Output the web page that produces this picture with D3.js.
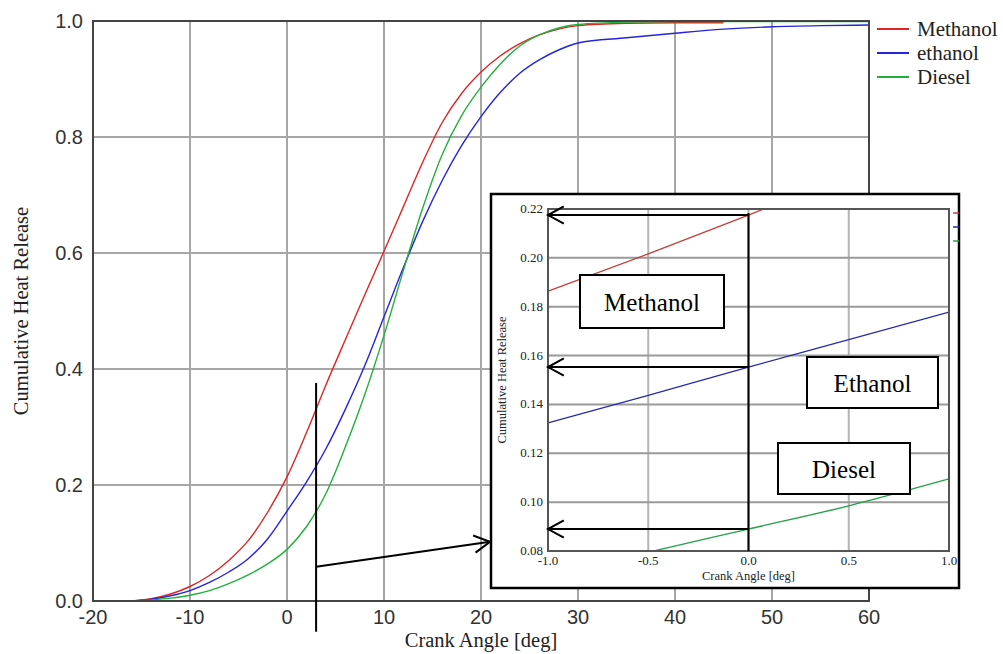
<!DOCTYPE html>
<html>
<head>
<meta charset="utf-8">
<script src="https://cdn.jsdelivr.net/npm/d3@7"></script>
<style>
    body { margin: 0; background: #fff; }
    svg { display: block; }
</style>
</head>
<body>
<div class="container"></div>
<script>
// main chart data (crank angle in deg, cumulative heat release 0..1)
var angles   = [-20, -16, -14, -12, -10, -8, -6, -4, -2, 0, 2, 4, 6, 8, 10, 12, 14, 16, 18, 20, 22, 24, 26, 28, 30, 35, 40, 45, 50, 55, 60];
var methanol = [null, 0, 0.004, 0.012, 0.025, 0.044, 0.07, 0.104, 0.153, 0.214, 0.29, 0.372, 0.45, 0.527, 0.603, 0.68, 0.757, 0.825, 0.875, 0.912, 0.94, 0.961, 0.976, 0.986, 0.992, 0.996, 0.997, 0.997, null, null, null];
var ethanol  = [null, 0, 0.003, 0.009, 0.018, 0.032, 0.05, 0.073, 0.107, 0.155, 0.205, 0.262, 0.33, 0.405, 0.49, 0.575, 0.655, 0.725, 0.785, 0.835, 0.877, 0.91, 0.933, 0.95, 0.962, 0.971, 0.979, 0.986, 0.99, 0.992, 0.993];
var diesel   = [0, 0, 0.002, 0.005, 0.01, 0.018, 0.03, 0.045, 0.064, 0.089, 0.128, 0.185, 0.265, 0.355, 0.458, 0.57, 0.678, 0.77, 0.837, 0.886, 0.926, 0.957, 0.976, 0.988, 0.994, 0.998, 0.999, 0.999, 0.999, 0.999, 0.999];

var xTicks = [-20, -10, 0, 10, 20, 30, 40, 50, 60];
var yTicks = [0, 0.2, 0.4, 0.6, 0.8, 1.0];

var seriesNames  = ["Methanol", "ethanol", "Diesel"];
var seriesColors = ["#e02424", "#2424dd", "#22b03a"];
var zoomColors   = ["#c43c3c", "#2a2aa8", "#24a048"];

// zoomed view around TDC
var zoomAngles   = [-1, -0.5, 0, 0.5, 1];
var zoomMethanol = [0.1864, 0.2016, 0.2175, 0.234, 0.25];
var zoomEthanol  = [0.1324, 0.1437, 0.1553, 0.1665, 0.1778];
var zoomDiesel   = [0.0705, 0.0795, 0.089, 0.0985, 0.1095];
var zoomXTicks   = [-1, -0.5, 0, 0.5, 1];
var zoomYTicks   = [0.08, 0.10, 0.12, 0.14, 0.16, 0.18, 0.20, 0.22];
var zoomLabels   = ["Methanol", "Ethanol", "Diesel"];
var zoomReadings = [0.2175, 0.1553, 0.089];
var markerAngle  = 3;

var SERIF = "'Liberation Serif', 'Times New Roman', serif";
var SANS = "'Liberation Sans', Arial, sans-serif";

var WIDTH = 1003, HEIGHT = 654;
var M = { left: 93, top: 21, right: 869, bottom: 601 };

var svg = d3.select(".container").append("svg")
    .attr("width", WIDTH).attr("height", HEIGHT)
    .attr("viewBox", `0 0 ${WIDTH} ${HEIGHT}`);

var x = d3.scaleLinear().domain([-20, 60]).range([M.left, M.right]);
var y = d3.scaleLinear().domain([0, 1]).range([M.bottom, M.top]);

// grid
svg.append("g").selectAll("line").data(xTicks.slice(1, -1)).enter().append("line")
    .attr("x1", d => x(d)).attr("x2", d => x(d))
    .attr("y1", M.top).attr("y2", M.bottom)
    .attr("stroke", "#a6a6a6").attr("stroke-width", 2);
svg.append("g").selectAll("line").data(yTicks.slice(1, -1)).enter().append("line")
    .attr("y1", d => y(d)).attr("y2", d => y(d))
    .attr("x1", M.left).attr("x2", M.right)
    .attr("stroke", "#a6a6a6").attr("stroke-width", 2);

// curves
var allSeries = [methanol, ethanol, diesel];
var line = d3.line()
    .defined(d => d[1] !== null)
    .x(d => x(d[0])).y(d => y(d[1]))
    .curve(d3.curveMonotoneX);
allSeries.forEach(function (vals, i) {
    svg.append("path")
        .datum(angles.map((a, k) => [a, vals[k]]))
        .attr("fill", "none")
        .attr("stroke", seriesColors[i])
        .attr("stroke-width", 1.4)
        .attr("d", line);
});

// frame
svg.append("rect")
    .attr("x", M.left).attr("y", M.top)
    .attr("width", M.right - M.left).attr("height", M.bottom - M.top)
    .attr("fill", "none").attr("stroke", "#444").attr("stroke-width", 2);

// axis labels
svg.append("g").selectAll("text").data(xTicks).enter().append("text")
    .attr("x", d => x(d)).attr("y", M.bottom + 23)
    .attr("text-anchor", "middle")
    .style("font-family", SANS)
    .style("font-size", "20px").attr("fill", "#333")
    .text(d => d);
svg.append("g").selectAll("text").data(yTicks).enter().append("text")
    .attr("x", M.left - 10).attr("y", d => y(d) + 7)
    .attr("text-anchor", "end")
    .style("font-family", SANS)
    .style("font-size", "20px").attr("fill", "#333")
    .text(d => d.toFixed(1));

svg.append("text")
    .attr("x", (M.left + M.right) / 2).attr("y", M.bottom + 46)
    .attr("text-anchor", "middle")
    .style("font-family", SERIF)
    .style("font-size", "20.5px").attr("fill", "#222")
    .text("Crank Angle [deg]");
svg.append("text")
    .attr("transform", `translate(28, ${(M.top + M.bottom) / 2}) rotate(-90)`)
    .attr("text-anchor", "middle")
    .style("font-family", SERIF)
    .style("font-size", "20.5px").attr("fill", "#222")
    .text("Cumulative Heat Release");

// legend
var legend = svg.append("g").attr("transform", "translate(877, 29)");
seriesNames.forEach(function (name, i) {
    legend.append("line")
        .attr("x1", 0).attr("x2", 32).attr("y1", i * 24).attr("y2", i * 24)
        .attr("stroke", seriesColors[i]).attr("stroke-width", 2);
    legend.append("text")
        .attr("x", 40).attr("y", i * 24 + 7)
        .style("font-family", SERIF)
        .style("font-size", "21px").attr("fill", "#222")
        .text(name);
});

function arrowHead(g, tipX, tipY, angle) {
    var len = 18, spread = 0.5;
    var p = d3.path();
    p.moveTo(tipX - len * Math.cos(angle - spread), tipY - len * Math.sin(angle - spread));
    p.lineTo(tipX, tipY);
    p.lineTo(tipX - len * Math.cos(angle + spread), tipY - len * Math.sin(angle + spread));
    g.append("path").attr("d", p.toString())
        .attr("fill", "none").attr("stroke", "#000").attr("stroke-width", 2);
}

// inset box
var box = { left: 491, top: 194, right: 959, bottom: 588 };
var I = { left: 548, top: 209, right: 949, bottom: 551 };

// marker line on main chart and arrow to inset
var ann = svg.append("g");
ann.append("line")
    .attr("x1", x(markerAngle)).attr("x2", x(markerAngle))
    .attr("y1", y(0.376)).attr("y2", y(-0.053))
    .attr("stroke", "#000").attr("stroke-width", 2);
var sx = x(markerAngle), sy = y(0.059), ex = box.left - 1, ey = y(0.102);
ann.append("line").attr("x1", sx).attr("y1", sy).attr("x2", ex).attr("y2", ey)
    .attr("stroke", "#000").attr("stroke-width", 2);
arrowHead(ann, ex, ey, Math.atan2(ey - sy, ex - sx));

var inset = svg.append("g");
inset.append("rect")
    .attr("x", box.left).attr("y", box.top)
    .attr("width", box.right - box.left).attr("height", box.bottom - box.top)
    .attr("fill", "#fff").attr("stroke", "#000").attr("stroke-width", 2.5);

var ix = d3.scaleLinear().domain([-1, 1]).range([I.left, I.right]);
var iy = d3.scaleLinear().domain([0.08, 0.22]).range([I.bottom, I.top]);

inset.append("g").selectAll("line").data(zoomXTicks.slice(1, -1)).enter().append("line")
    .attr("x1", d => ix(d)).attr("x2", d => ix(d))
    .attr("y1", I.top).attr("y2", I.bottom)
    .attr("stroke", "#b4b4b4").attr("stroke-width", 2);
inset.append("g").selectAll("line").data(zoomYTicks.slice(1, -1)).enter().append("line")
    .attr("y1", d => iy(d)).attr("y2", d => iy(d))
    .attr("x1", I.left).attr("x2", I.right)
    .attr("stroke", "#9a9a9a").attr("stroke-width", 2);

svg.append("clipPath").attr("id", "insetClip").append("rect")
    .attr("x", I.left).attr("y", I.top)
    .attr("width", I.right - I.left).attr("height", I.bottom - I.top);

var zline = d3.line().x(d => ix(d[0])).y(d => iy(d[1])).curve(d3.curveMonotoneX);
[zoomMethanol, zoomEthanol, zoomDiesel].forEach(function (vals, i) {
    inset.append("path")
        .datum(zoomAngles.map((a, k) => [a, vals[k]]))
        .attr("clip-path", "url(#insetClip)")
        .attr("fill", "none").attr("stroke", zoomColors[i]).attr("stroke-width", 1.3)
        .attr("d", zline);
    // cut-off legend stubs on the right edge
    inset.append("line")
        .attr("x1", I.right + 4).attr("x2", I.right + 10)
        .attr("y1", I.top + 4 + i * 14).attr("y2", I.top + 4 + i * 14)
        .attr("stroke", zoomColors[i]).attr("stroke-width", 1.5);
});

inset.append("rect")
    .attr("x", I.left).attr("y", I.top)
    .attr("width", I.right - I.left).attr("height", I.bottom - I.top)
    .attr("fill", "none").attr("stroke", "#555").attr("stroke-width", 2);

inset.append("g").selectAll("text").data(zoomYTicks).enter().append("text")
    .attr("x", I.left - 5).attr("y", d => iy(d) + 4)
    .attr("text-anchor", "end")
    .style("font-family", SERIF)
    .style("font-size", "13px").attr("fill", "#222")
    .text(d => d.toFixed(2));
inset.append("g").selectAll("text").data(zoomXTicks).enter().append("text")
    .attr("x", d => ix(d)).attr("y", I.bottom + 14)
    .attr("text-anchor", "middle")
    .style("font-family", SERIF)
    .style("font-size", "13px").attr("fill", "#222")
    .text(d => d.toFixed(1));
inset.append("text")
    .attr("x", (I.left + I.right) / 2).attr("y", I.bottom + 29)
    .attr("text-anchor", "middle")
    .style("font-family", SERIF)
    .style("font-size", "12.5px").attr("fill", "#222")
    .text("Crank Angle [deg]");
inset.append("text")
    .attr("transform", `translate(506, ${(I.top + I.bottom) / 2}) rotate(-90)`)
    .attr("text-anchor", "middle")
    .style("font-family", SERIF)
    .style("font-size", "12.5px").attr("fill", "#222")
    .text("Cumulative Heat Release");

// reading arrows at 0 deg
inset.append("line")
    .attr("x1", ix(0)).attr("x2", ix(0))
    .attr("y1", iy(zoomReadings[0]) - 2).attr("y2", I.bottom)
    .attr("stroke", "#000").attr("stroke-width", 2);
zoomReadings.forEach(function (v) {
    inset.append("line")
        .attr("x1", ix(0)).attr("x2", I.left)
        .attr("y1", iy(v)).attr("y2", iy(v))
        .attr("stroke", "#000").attr("stroke-width", 2);
    arrowHead(inset, I.left, iy(v), Math.PI);
});

// label boxes
var labelBoxes = [
    { x: 580, y: 275, w: 144, h: 53 },
    { x: 807, y: 357, w: 131, h: 51 },
    { x: 778, y: 443, w: 132, h: 51 }
];
labelBoxes.forEach(function (b, i) {
    inset.append("rect")
        .attr("x", b.x).attr("y", b.y).attr("width", b.w).attr("height", b.h)
        .attr("fill", "#fff").attr("stroke", "#000").attr("stroke-width", 2);
    inset.append("text")
        .attr("x", b.x + b.w / 2).attr("y", b.y + b.h / 2 + 9)
        .attr("text-anchor", "middle")
        .style("font-family", SERIF)
        .style("font-size", "25px").attr("fill", "#000")
        .text(zoomLabels[i]);
});
</script>
</body>
</html>
